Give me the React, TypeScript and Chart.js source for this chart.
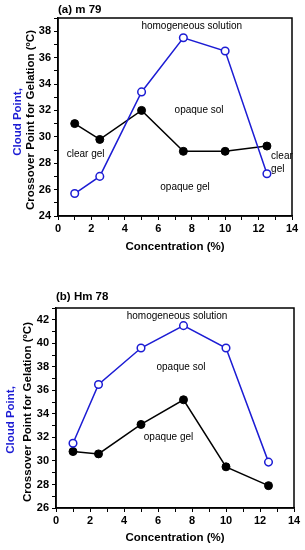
import React, { useEffect, useRef } from 'react';
import { Chart, registerables } from 'chart.js';
Chart.register(...registerables);

const concentrations = [1, 2.5, 5, 7.5, 10, 12.5];
const cloudPointA = [25.7, 27.0, 33.4, 37.5, 36.5, 27.2];
const crossoverA = [31.0, 29.8, 32.0, 28.9, 28.9, 29.3];
const cloudPointB = [31.5, 36.5, 39.6, 41.5, 39.6, 29.9];
const crossoverB = [30.8, 30.6, 33.1, 35.2, 29.5, 27.9];

const xTitle = 'Concentration (%)';
const yTitleBlue = 'Cloud Point,';
const yTitleBlack = 'Crossover Point for Gelation (ºC)';

const notesA = [
  { text: 'homogeneous solution', x: 8.0, y: 38.35, align: 'center' },
  { text: 'opaque sol', x: 8.44, y: 32.04, align: 'center' },
  { text: 'clear gel', x: 1.65, y: 28.7, align: 'center' },
  { text: 'opaque gel', x: 7.6, y: 26.2, align: 'center' },
  { text: 'clear', x: 12.75, y: 28.55, align: 'left' },
  { text: 'gel', x: 12.75, y: 27.56, align: 'left' },
];
const notesB = [
  { text: 'homogeneous solution', x: 7.12, y: 42.3, align: 'center' },
  { text: 'opaque sol', x: 7.35, y: 37.93, align: 'center' },
  { text: 'opaque gel', x: 6.62, y: 32.04, align: 'center' },
];

const BLUE = '#1c1cd4';
const FONT = '"Liberation Sans", Arial, Helvetica, sans-serif';

const overlay = {
  id: 'overlay',
  afterDraw(chart: any, _args: any, opts: any) {
    const { ctx, chartArea: ca } = chart;
    const x = chart.scales.x;
    const y = chart.scales.y;
    ctx.save();
    ctx.strokeStyle = '#000';
    ctx.lineWidth = 1.5;
    ctx.strokeRect(ca.left, ca.top, ca.right - ca.left, ca.bottom - ca.top);

    ctx.fillStyle = '#000';
    ctx.textBaseline = 'middle';
    ctx.font = `10px ${FONT}`;
    for (const n of opts.notes) {
      ctx.textAlign = n.align;
      ctx.fillText(n.text, x.getPixelForValue(n.x), y.getPixelForValue(n.y));
    }

    ctx.font = `bold 11.5px ${FONT}`;
    ctx.textAlign = 'left';
    ctx.fillText(opts.title, ca.left, opts.titleY);

    ctx.textAlign = 'center';
    ctx.fillText(xTitle, (ca.left + ca.right) / 2, ca.bottom + opts.xTitleDy);

    const cy = (ca.top + ca.bottom) / 2;
    ctx.save();
    ctx.translate(opts.blueX, cy + opts.blueDy);
    ctx.rotate(-Math.PI / 2);
    ctx.fillStyle = BLUE;
    ctx.fillText(yTitleBlue, 0, 0);
    ctx.restore();

    ctx.save();
    ctx.translate(opts.blackX, cy + opts.blackDy);
    ctx.rotate(-Math.PI / 2);
    ctx.fillStyle = '#000';
    ctx.fillText(yTitleBlack, 0, 0);
    ctx.restore();

    ctx.restore();
  },
};

function makeConfig(p: any) {
  const tickFont = { family: FONT, size: 11, weight: 'bold' as const };
  return {
    type: 'line' as const,
    data: {
      datasets: [
        {
          label: 'Cloud Point',
          data: concentrations.map((c, i) => ({ x: c, y: p.blue[i] })),
          borderColor: BLUE,
          borderWidth: 1.5,
          pointRadius: 3.8,
          pointBorderWidth: 1.5,
          pointBackgroundColor: '#fff',
          pointBorderColor: BLUE,
          tension: 0,
        },
        {
          label: 'Crossover',
          data: concentrations.map((c, i) => ({ x: c, y: p.black[i] })),
          borderColor: '#000',
          borderWidth: 1.5,
          pointRadius: 4,
          pointBorderWidth: 1,
          pointBackgroundColor: '#000',
          pointBorderColor: '#000',
          tension: 0,
        },
      ],
    },
    options: {
      responsive: false,
      animation: false as const,
      layout: { padding: { left: 0, right: p.padRight, top: p.padTop, bottom: 0 } },
      plugins: {
        legend: { display: false },
        tooltip: { enabled: false },
        overlay: p.overlay,
      },
      scales: {
        x: {
          type: 'linear' as const,
          min: 0,
          max: 14,
          afterFit: (s: any) => { s.height = p.xHeight; },
          ticks: {
            stepSize: 1,
            autoSkip: false,
            maxRotation: 0,
            padding: 2,
            color: '#000',
            font: tickFont,
            callback: (v: any) => (v % 2 === 0 ? String(v) : ''),
          },
          grid: { drawOnChartArea: false, drawTicks: true, tickLength: 4, color: '#000', tickWidth: 1 },
          border: { color: '#000', width: 1.5 },
        },
        y: {
          type: 'linear' as const,
          min: p.yMin,
          max: p.yMax,
          afterFit: (s: any) => { s.width = p.yWidth; },
          ticks: {
            stepSize: 1,
            autoSkip: false,
            padding: 3,
            color: '#000',
            font: tickFont,
            callback: (v: any) => (v % 2 === 0 ? String(v) : ''),
          },
          grid: { drawOnChartArea: false, drawTicks: true, tickLength: 4, color: '#000', tickWidth: 1 },
          border: { color: '#000', width: 1.5 },
        },
      },
    },
    plugins: [overlay],
  };
}

function Panel(props: { cfg: any; height: number }) {
  const ref = useRef<HTMLCanvasElement>(null);
  useEffect(() => {
    if (!ref.current) return;
    const chart = new Chart(ref.current, makeConfig(props.cfg) as any);
    return () => chart.destroy();
  }, []);
  return <canvas ref={ref} width={305} height={props.height} style={{ display: 'block', width: 305, height: props.height }} />;
}

const panelA = {
  blue: cloudPointA,
  black: crossoverA,
  yMin: 24,
  yMax: 39,
  padRight: 13,
  padTop: 18,
  yWidth: 58,
  xHeight: 59,
  overlay: {
    notes: notesA,
    title: '(a) m 79',
    titleY: 10,
    xTitleDy: 31,
    blueX: 17.5,
    blueDy: 5,
    blackX: 30.5,
    blackDy: 3,
  },
};

const panelB = {
  blue: cloudPointB,
  black: crossoverB,
  yMin: 26,
  yMax: 43,
  padRight: 11,
  padTop: 33,
  yWidth: 56,
  xHeight: 42,
  overlay: {
    notes: notesB,
    title: '(b) Hm 78',
    titleY: 22,
    xTitleDy: 30,
    blueX: 11,
    blueDy: 12,
    blackX: 27.5,
    blackDy: 4,
  },
};

export default function App() {
  return (
    <div style={{ position: 'absolute', left: 0, top: 0, width: 305, height: 550, background: '#fff' }}>
      <Panel cfg={panelA} height={275} />
      <Panel cfg={panelB} height={275} />
    </div>
  );
}
